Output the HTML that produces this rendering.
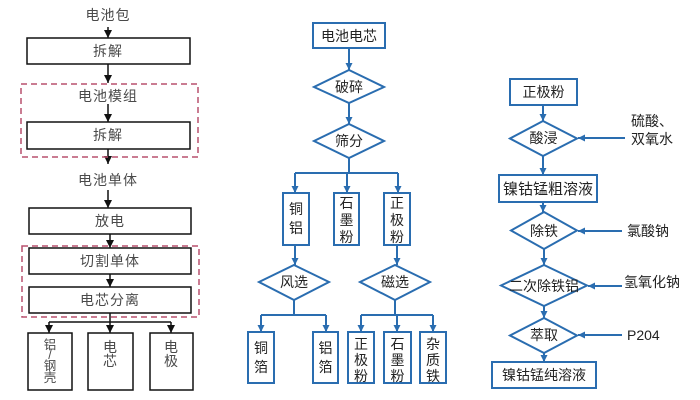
<!DOCTYPE html>
<html><head><meta charset="utf-8"><style>
html,body{margin:0;padding:0;background:#fff;}
svg{display:block;}
text{font-family:"Liberation Sans","Noto Sans CJK SC",sans-serif;}
.l{font-size:14px;fill:#4a4a4a;letter-spacing:1px;text-anchor:middle;}
.s{font-size:12.5px;fill:#4a4a4a;text-anchor:middle;}
.b{font-size:14px;fill:#222;text-anchor:middle;}
.r{font-size:14px;fill:#222;}
</style></head><body>
<svg width="700" height="400" viewBox="0 0 700 400" xmlns="http://www.w3.org/2000/svg">
<defs>
<marker id="ak" markerUnits="userSpaceOnUse" markerWidth="9" markerHeight="9" refX="8" refY="4" orient="auto"><path d="M0,0 L8,4 L0,8 z" fill="#111"/></marker>
<marker id="ab" markerUnits="userSpaceOnUse" markerWidth="8" markerHeight="8" refX="7" refY="3.5" orient="auto"><path d="M0,0 L7,3.5 L0,7 z" fill="#2a6db0"/></marker>
</defs>

<!-- LEFT COLUMN -->
<g stroke="#111" stroke-width="1.5" fill="none">
<line x1="108" y1="27" x2="108" y2="38" marker-end="url(#ak)"/>
<rect x="27" y="38" width="163" height="26" fill="#fff"/>
<line x1="108" y1="64" x2="108" y2="83" marker-end="url(#ak)"/>
<line x1="108" y1="104" x2="108" y2="122" marker-end="url(#ak)"/>
<rect x="27" y="122" width="163" height="27" fill="#fff"/>
<line x1="108" y1="149" x2="108" y2="164" marker-end="url(#ak)"/>
<line x1="108" y1="190" x2="108" y2="208" marker-end="url(#ak)"/>
<rect x="29" y="208" width="162" height="26" fill="#fff"/>
<line x1="110" y1="234" x2="110" y2="248" marker-end="url(#ak)"/>
<rect x="29" y="248" width="162" height="26" fill="#fff"/>
<line x1="110" y1="274" x2="110" y2="287" marker-end="url(#ak)"/>
<rect x="29" y="287" width="162" height="26" fill="#fff"/>
<line x1="110" y1="313" x2="110" y2="322"/>
<line x1="49" y1="322" x2="171" y2="322"/>
<line x1="49" y1="322" x2="49" y2="333" marker-end="url(#ak)"/>
<line x1="110" y1="322" x2="110" y2="333" marker-end="url(#ak)"/>
<line x1="171" y1="322" x2="171" y2="333" marker-end="url(#ak)"/>
<rect x="28" y="333" width="44" height="57"/>
<rect x="88" y="333" width="45" height="57"/>
<rect x="150" y="333" width="43" height="57"/>
</g>
<g stroke="#b8506e" stroke-width="1.5" fill="none" stroke-dasharray="6,4">
<rect x="21" y="84" width="177" height="73"/>
<rect x="22" y="246" width="177" height="71"/>
</g>
<text class="l" x="108" y="20">电池包</text>
<text class="l" x="108" y="56">拆解</text>
<text class="l" x="108" y="101">电池模组</text>
<text class="l" x="108" y="140">拆解</text>
<text class="l" x="108" y="185">电池单体</text>
<text class="l" x="110" y="226">放电</text>
<text class="l" x="110" y="266">切割单体</text>
<text class="l" x="110" y="305">电芯分离</text>
<text class="s" x="50" y="349">铝</text>
<text class="s" x="50" y="359">/</text>
<text class="s" x="50" y="370">钢</text>
<text class="s" x="50" y="382">壳</text>
<text class="l" x="110" y="352" style="letter-spacing:0">电</text>
<text class="l" x="110" y="366" style="letter-spacing:0">芯</text>
<text class="l" x="171" y="352" style="letter-spacing:0">电</text>
<text class="l" x="171" y="366" style="letter-spacing:0">极</text>

<!-- MIDDLE COLUMN -->
<g stroke="#2a6db0" stroke-width="2" fill="#fff">
<rect x="313" y="23" width="72" height="25"/>
<line x1="349" y1="48" x2="349" y2="70" marker-end="url(#ab)"/>
<polygon points="349,70 384,87 349,103 314,87"/>
<line x1="349" y1="103" x2="349" y2="124" marker-end="url(#ab)"/>
<polygon points="349,124 384,141 349,158 314,141"/>
<line x1="349" y1="158" x2="349" y2="173"/>
<line x1="295" y1="173" x2="398" y2="173"/>
<line x1="295" y1="173" x2="295" y2="193" marker-end="url(#ab)"/>
<line x1="347" y1="173" x2="347" y2="193" marker-end="url(#ab)"/>
<line x1="398" y1="173" x2="398" y2="193" marker-end="url(#ab)"/>
<rect x="283" y="193" width="26" height="52"/>
<rect x="334" y="193" width="25" height="52"/>
<rect x="384" y="193" width="26" height="52"/>
<line x1="295" y1="245" x2="295" y2="265" marker-end="url(#ab)"/>
<polygon points="294,265 329,282 294,300 259,282"/>
<line x1="294" y1="300" x2="294" y2="315"/>
<line x1="261" y1="315" x2="326" y2="315"/>
<line x1="261" y1="315" x2="261" y2="332" marker-end="url(#ab)"/>
<line x1="326" y1="315" x2="326" y2="332" marker-end="url(#ab)"/>
<rect x="248" y="332" width="26" height="51"/>
<rect x="313" y="332" width="25" height="51"/>
<line x1="397" y1="245" x2="397" y2="265" marker-end="url(#ab)"/>
<polygon points="395,265 430,282 395,300 360,282"/>
<line x1="395" y1="300" x2="395" y2="315"/>
<line x1="361" y1="315" x2="433" y2="315"/>
<line x1="361" y1="315" x2="361" y2="332" marker-end="url(#ab)"/>
<line x1="397" y1="315" x2="397" y2="332" marker-end="url(#ab)"/>
<line x1="433" y1="315" x2="433" y2="332" marker-end="url(#ab)"/>
<rect x="348" y="332" width="26" height="51"/>
<rect x="384" y="332" width="27" height="51"/>
<rect x="420" y="332" width="26" height="51"/>
</g>
<text class="b" x="349" y="41">电池电芯</text>
<text class="b" x="349" y="92">破碎</text>
<text class="b" x="349" y="146">筛分</text>
<text class="b" x="296" y="214">铜</text>
<text class="b" x="296" y="233">铝</text>
<text class="b" x="346.5" y="208">石</text>
<text class="b" x="346.5" y="225">墨</text>
<text class="b" x="346.5" y="242">粉</text>
<text class="b" x="397" y="208">正</text>
<text class="b" x="397" y="225">极</text>
<text class="b" x="397" y="242">粉</text>
<text class="b" x="294" y="287">风选</text>
<text class="b" x="395" y="287">磁选</text>
<text class="b" x="261" y="353">铜</text>
<text class="b" x="261" y="372">箔</text>
<text class="b" x="325.5" y="353">铝</text>
<text class="b" x="325.5" y="372">箔</text>
<text class="b" x="361" y="349">正</text>
<text class="b" x="361" y="365">极</text>
<text class="b" x="361" y="381">粉</text>
<text class="b" x="397.5" y="349">石</text>
<text class="b" x="397.5" y="365">墨</text>
<text class="b" x="397.5" y="381">粉</text>
<text class="b" x="433" y="349">杂</text>
<text class="b" x="433" y="365">质</text>
<text class="b" x="433" y="381">铁</text>

<!-- RIGHT COLUMN -->
<g stroke="#2a6db0" stroke-width="2" fill="#fff">
<rect x="510" y="79" width="67" height="26"/>
<line x1="543" y1="105" x2="543" y2="121" marker-end="url(#ab)"/>
<polygon points="543,121 577,138.5 543,156 510,138.5"/>
<line x1="625" y1="138" x2="578" y2="138" marker-end="url(#ab)"/>
<line x1="543" y1="156" x2="543" y2="175" marker-end="url(#ab)"/>
<rect x="499" y="175" width="98" height="27"/>
<line x1="543" y1="202" x2="543" y2="212" marker-end="url(#ab)"/>
<polygon points="544,212 577,230.5 544,249 511,230.5"/>
<line x1="622" y1="231" x2="578" y2="231" marker-end="url(#ab)"/>
<line x1="544" y1="249" x2="544" y2="265" marker-end="url(#ab)"/>
<polygon points="544,265 587,285.5 544,306 501,285.5"/>
<line x1="622" y1="286" x2="588" y2="286" marker-end="url(#ab)"/>
<line x1="544" y1="306" x2="544" y2="318" marker-end="url(#ab)"/>
<polygon points="544,318 577,335.5 544,353 510,335.5"/>
<line x1="622" y1="335" x2="578" y2="335" marker-end="url(#ab)"/>
<line x1="544" y1="353" x2="544" y2="362" marker-end="url(#ab)"/>
<rect x="492" y="362" width="104" height="26"/>
</g>
<text class="b" x="543.5" y="97">正极粉</text>
<text class="b" x="543.5" y="143">酸浸</text>
<text class="b" x="548" y="194" style="font-size:15px">镍钴锰粗溶液</text>
<text class="b" x="544" y="236">除铁</text>
<text class="b" x="544" y="291">二次除铁铝</text>
<text class="b" x="544" y="340">萃取</text>
<text class="b" x="544" y="380">镍钴锰纯溶液</text>
<text class="r" x="631" y="126">硫酸、</text>
<text class="r" x="631" y="144">双氧水</text>
<text class="r" x="627" y="236">氯酸钠</text>
<text class="r" x="624" y="287">氢氧化钠</text>
<text class="r" x="627" y="340">P204</text>
</svg>
</body></html>
